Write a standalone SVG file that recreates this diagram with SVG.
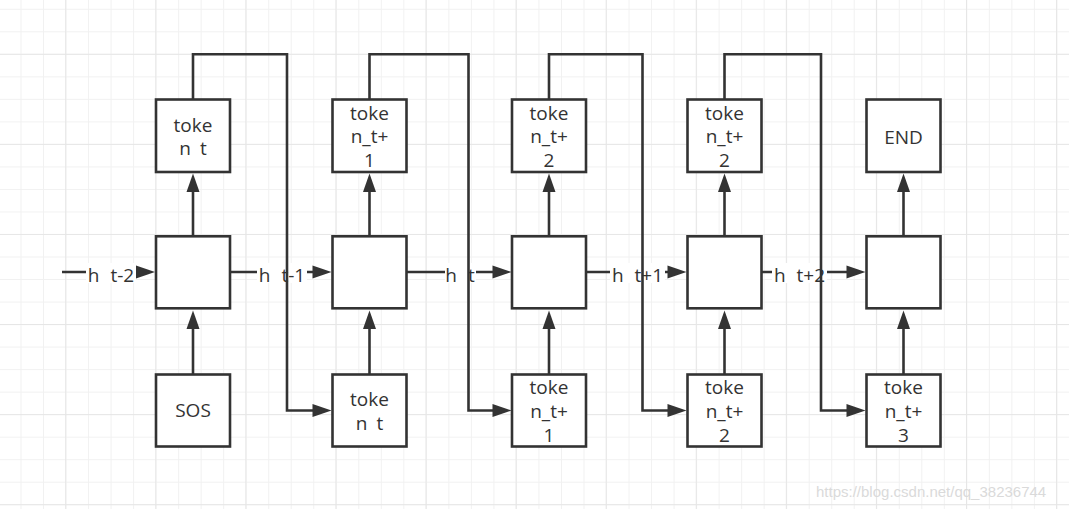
<svg xmlns="http://www.w3.org/2000/svg" width="1069" height="509" viewBox="0 0 1069 509">
<style>
.box{fill:#fff;stroke:#333;stroke-width:2.6}
.ln{fill:none;stroke:#333;stroke-width:2.6}
.ah{fill:#333;stroke:none}
.t{font-family:"Open Sans","Liberation Sans",sans-serif;font-size:19px;fill:#333;text-anchor:middle}
.lb{fill:#fff}
.wm{font-family:"Liberation Sans",Arial,sans-serif;font-size:15px;fill:#dadada}
</style>
<defs>
<pattern id="gmin" x="-2.02" y="-13.72" width="22.52" height="22.52" patternUnits="userSpaceOnUse">
<rect x="0" y="0" width="1" height="22.52" fill="#f1f1f1"/>
<rect x="0" y="0" width="22.52" height="1" fill="#f1f1f1"/>
</pattern>
<pattern id="gmaj" x="65.2" y="53.8" width="90.08" height="90.08" patternUnits="userSpaceOnUse">
<rect x="0" y="0" width="1" height="90.08" fill="#e6e6e6"/>
<rect x="0" y="0" width="90.08" height="1" fill="#e6e6e6"/>
</pattern>
</defs>
<rect width="1069" height="509" fill="#fff"/>
<rect width="1069" height="509" fill="url(#gmin)"/>
<rect width="1069" height="509" fill="url(#gmaj)"/>

<g id="connectors">
<!-- vertical arrows: bottom to middle -->
<line class="ln" x1="193" y1="374" x2="193" y2="328"/><polygon class="ah" points="193,310.5 186.5,329 199.5,329"/>
<line class="ln" x1="369.5" y1="374" x2="369.5" y2="328"/><polygon class="ah" points="369.5,310.5 363,329 376,329"/>
<line class="ln" x1="549" y1="374" x2="549" y2="328"/><polygon class="ah" points="549,310.5 542.5,329 555.5,329"/>
<line class="ln" x1="724.5" y1="374" x2="724.5" y2="328"/><polygon class="ah" points="724.5,310.5 718,329 731,329"/>
<line class="ln" x1="903.5" y1="374" x2="903.5" y2="328"/><polygon class="ah" points="903.5,310.5 897,329 910,329"/>
<!-- vertical arrows: middle to top -->
<line class="ln" x1="193" y1="236" x2="193" y2="191"/><polygon class="ah" points="193,173.5 186.5,192 199.5,192"/>
<line class="ln" x1="369.5" y1="236" x2="369.5" y2="191"/><polygon class="ah" points="369.5,173.5 363,192 376,192"/>
<line class="ln" x1="549" y1="236" x2="549" y2="191"/><polygon class="ah" points="549,173.5 542.5,192 555.5,192"/>
<line class="ln" x1="724.5" y1="236" x2="724.5" y2="191"/><polygon class="ah" points="724.5,173.5 718,192 731,192"/>
<line class="ln" x1="903.5" y1="236" x2="903.5" y2="191"/><polygon class="ah" points="903.5,173.5 897,192 910,192"/>
<!-- horizontal hidden-state arrows -->
<line class="ln" x1="62" y1="272" x2="137" y2="272"/><polygon class="ah" points="155,272 136,265.5 136,278.5"/>
<line class="ln" x1="231" y1="272" x2="313" y2="272"/><polygon class="ah" points="331.5,272 312.5,265.5 312.5,278.5"/>
<line class="ln" x1="407" y1="272" x2="493" y2="272"/><polygon class="ah" points="511.5,272 492.5,265.5 492.5,278.5"/>
<line class="ln" x1="587" y1="272" x2="668" y2="272"/><polygon class="ah" points="686.5,272 667.5,265.5 667.5,278.5"/>
<line class="ln" x1="762" y1="272" x2="847" y2="272"/><polygon class="ah" points="865.5,272 846.5,265.5 846.5,278.5"/>
<!-- labels -->
<rect class="lb" x="86" y="263" width="50" height="20"/>
<text class="t" x="111" y="282">h <tspan dx="6">t-2</tspan></text>
<rect class="lb" x="257" y="263" width="50" height="20"/>
<text class="t" x="282" y="282">h <tspan dx="6">t-1</tspan></text>
<rect class="lb" x="445" y="263" width="31" height="20"/>
<text class="t" x="460" y="282">h <tspan dx="6">t</tspan></text>
<rect class="lb" x="610" y="263" width="55" height="20"/>
<text class="t" x="637.5" y="282">h <tspan dx="6">t+1</tspan></text>
<rect class="lb" x="772" y="263" width="55" height="20"/>
<text class="t" x="799.5" y="282">h <tspan dx="6">t+2</tspan></text>
<!-- feedback loops: token output to next input -->
<polyline class="ln" points="193,99 193,54.3 287,54.3 287,410.5 313,410.5"/><polygon class="ah" points="331.5,410.5 312.5,404 312.5,417"/>
<polyline class="ln" points="369.5,99 369.5,54.3 468.5,54.3 468.5,410.5 493,410.5"/><polygon class="ah" points="511.5,410.5 492.5,404 492.5,417"/>
<polyline class="ln" points="549,99 549,54.3 642.5,54.3 642.5,410.5 668,410.5"/><polygon class="ah" points="686.5,410.5 667.5,404 667.5,417"/>
<polyline class="ln" points="724.5,99 724.5,54.3 821,54.3 821,410.5 847,410.5"/><polygon class="ah" points="865.5,410.5 846.5,404 846.5,417"/>
</g>

<!-- top row -->
<g id="top1"><rect class="box" x="156" y="99.5" width="74" height="72.5"/><text class="t" x="193" y="131.7">toke</text><text class="t" x="193" y="155">n <tspan dx="4">t</tspan></text></g>
<g id="top2"><rect class="box" x="332.5" y="99.5" width="74" height="72.5"/><text class="t" x="369.5" y="120">toke</text><text class="t" x="369.5" y="143.3">n_t+</text><text class="t" x="369.5" y="167">1</text></g>
<g id="top3"><rect class="box" x="512" y="99.5" width="74" height="72.5"/><text class="t" x="549" y="120">toke</text><text class="t" x="549" y="143.3">n_t+</text><text class="t" x="549" y="167">2</text></g>
<g id="top4"><rect class="box" x="687.5" y="99.5" width="74" height="72.5"/><text class="t" x="724.5" y="120">toke</text><text class="t" x="724.5" y="143.3">n_t+</text><text class="t" x="724.5" y="167">2</text></g>
<g id="top5"><rect class="box" x="866.5" y="99.5" width="74" height="72.5"/><text class="t" x="903.5" y="143.5">END</text></g>

<!-- middle row -->
<g id="mid1"><rect class="box" x="156" y="236.3" width="74" height="72"/></g>
<g id="mid2"><rect class="box" x="332.5" y="236.3" width="74" height="72"/></g>
<g id="mid3"><rect class="box" x="512" y="236.3" width="74" height="72"/></g>
<g id="mid4"><rect class="box" x="687.5" y="236.3" width="74" height="72"/></g>
<g id="mid5"><rect class="box" x="866.5" y="236.3" width="74" height="72"/></g>

<!-- bottom row -->
<g id="bot1"><rect class="box" x="156" y="374.5" width="74" height="72"/><text class="t" x="193" y="417.3">SOS</text></g>
<g id="bot2"><rect class="box" x="332.5" y="374.5" width="74" height="72"/><text class="t" x="369.5" y="406">toke</text><text class="t" x="369.5" y="429.5">n <tspan dx="4">t</tspan></text></g>
<g id="bot3"><rect class="box" x="512" y="374.5" width="74" height="72"/><text class="t" x="549" y="394">toke</text><text class="t" x="549" y="417.5">n_t+</text><text class="t" x="549" y="441.5">1</text></g>
<g id="bot4"><rect class="box" x="687.5" y="374.5" width="74" height="72"/><text class="t" x="724.5" y="394">toke</text><text class="t" x="724.5" y="417.5">n_t+</text><text class="t" x="724.5" y="441.5">2</text></g>
<g id="bot5"><rect class="box" x="866.5" y="374.5" width="74" height="72"/><text class="t" x="903.5" y="394">toke</text><text class="t" x="903.5" y="417.5">n_t+</text><text class="t" x="903.5" y="441.5">3</text></g>

<text class="wm" x="816" y="497">https://blog.csdn.net/qq_38236744</text>
</svg>
